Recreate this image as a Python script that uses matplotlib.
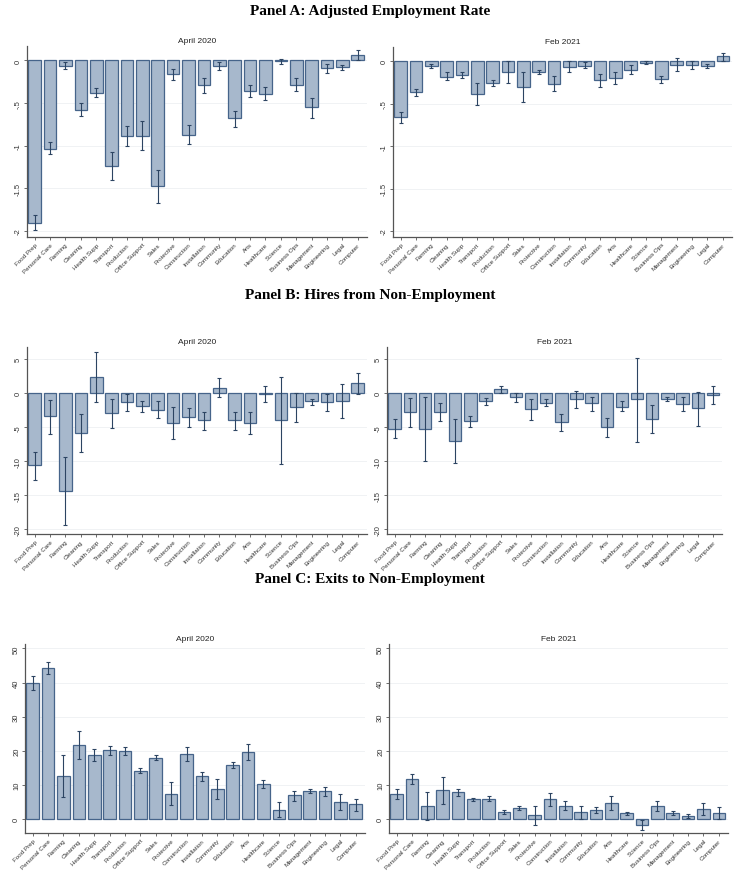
import matplotlib.pyplot as plt
import numpy as np

occupations = ["Food Prep", "Personal Care", "Farming", "Cleaning", "Health Supp",
               "Transport", "Production", "Office Support", "Sales", "Protective",
               "Construction", "Installation", "Community", "Education", "Arts",
               "Healthcare", "Science", "Business Ops", "Management", "Engineering",
               "Legal", "Computer"]

# Panel A: adjusted employment rate
emp_apr = [-1.90, -1.035, -0.06, -0.575, -0.38, -1.24, -0.89, -0.88, -1.47, -0.16, -0.87,
           -0.29, -0.07, -0.68, -0.36, -0.39, -0.01, -0.29, -0.55, -0.09, -0.08, 0.065]
emp_apr_lo = [-1.99, -1.10, -0.10, -0.65, -0.43, -1.40, -1.00, -1.05, -1.67, -0.23, -0.98,
              -0.38, -0.11, -0.78, -0.43, -0.46, -0.04, -0.36, -0.67, -0.15, -0.11, 0.01]
emp_apr_hi = [-1.81, -0.96, -0.02, -0.50, -0.32, -1.07, -0.77, -0.71, -1.28, -0.10, -0.76,
              -0.21, -0.02, -0.59, -0.29, -0.31, 0.02, -0.21, -0.44, -0.04, -0.05, 0.12]
emp_feb = [-0.66, -0.36, -0.05, -0.18, -0.16, -0.38, -0.25, -0.13, -0.30, -0.125, -0.265,
           -0.07, -0.05, -0.22, -0.20, -0.10, -0.015, -0.21, -0.04, -0.045, -0.055, 0.06]
emp_feb_lo = [-0.73, -0.41, -0.08, -0.22, -0.20, -0.51, -0.29, -0.26, -0.48, -0.15, -0.35,
              -0.13, -0.08, -0.30, -0.27, -0.15, -0.03, -0.26, -0.11, -0.085, -0.08, 0.01]
emp_feb_hi = [-0.60, -0.32, -0.03, -0.13, -0.125, -0.25, -0.22, 0.0, -0.12, -0.105, -0.175,
              0.0, -0.01, -0.145, -0.13, -0.04, 0.0, -0.175, 0.035, 0.0, -0.03, 0.10]

# Panel B: hires from non-employment
hire_apr = [-10.6, -3.4, -14.4, -5.9, 2.35, -2.95, -1.3, -1.9, -2.4, -4.4, -3.5,
            -4.0, 0.75, -4.0, -4.4, -0.15, -3.9, -2.05, -1.2, -1.3, -1.15, 1.45]
hire_apr_lo = [-12.7, -6.0, -19.4, -8.7, -1.3, -5.05, -2.65, -2.8, -3.7, -6.7, -5.0,
               -5.35, -0.6, -5.4, -6.0, -1.3, -10.4, -4.2, -1.7, -2.65, -3.7, -0.15]
hire_apr_hi = [-8.7, -1.0, -9.4, -3.1, 6.1, -0.8, -0.1, -1.1, -1.1, -2.05, -2.2,
               -2.7, 2.2, -2.8, -2.8, 1.0, 2.45, 0.05, -0.85, -0.1, 1.3, 2.95]
hire_feb = [-5.3, -2.8, -5.3, -2.7, -7.0, -4.1, -1.2, 0.65, -0.55, -2.35, -1.4,
            -4.25, -0.9, -1.5, -5.0, -1.95, -0.9, -3.8, -0.9, -1.6, -2.2, -0.3]
hire_feb_lo = [-6.6, -5.0, -10.0, -4.1, -10.2, -5.0, -1.75, 0.1, -1.3, -3.95, -1.9,
               -5.5, -2.1, -2.65, -6.4, -2.65, -7.1, -5.85, -1.2, -2.65, -4.85, -1.65]
hire_feb_hi = [-3.8, -0.7, -0.6, -1.4, -3.8, -3.3, -0.7, 1.1, 0.05, -0.85, -0.9,
               -3.0, 0.4, -0.55, -3.7, -1.2, 5.2, -1.8, -0.5, -0.6, 0.25, 1.0]

# Panel C: exits to non-employment
exit_apr = [39.9, 44.2, 12.7, 21.6, 18.7, 20.1, 20.0, 14.1, 18.0, 7.4, 19.0,
            12.5, 8.8, 15.8, 19.7, 10.2, 2.7, 6.9, 8.2, 8.1, 5.1, 4.3]
exit_apr_lo = [37.9, 42.4, 6.4, 17.5, 16.9, 18.8, 18.9, 13.4, 17.4, 4.0, 17.0,
               11.1, 6.0, 14.9, 17.4, 9.0, 0.5, 5.4, 7.5, 6.8, 2.6, 2.4]
exit_apr_hi = [41.8, 46.0, 18.8, 25.7, 20.5, 21.4, 21.0, 15.0, 18.8, 10.9, 21.0,
               13.9, 11.6, 16.6, 22.0, 11.3, 5.1, 8.3, 8.9, 9.4, 7.3, 6.0]
exit_feb = [7.3, 11.7, 3.8, 8.4, 7.8, 5.75, 6.0, 2.1, 3.2, 1.1, 5.75,
            3.9, 1.95, 2.7, 4.6, 1.75, -1.75, 3.7, 1.75, 0.8, 2.9, 1.75]
exit_feb_lo = [5.9, 10.3, -0.2, 4.5, 6.6, 5.2, 5.3, 1.6, 2.6, -1.75, 3.9,
               2.5, 0.0, 1.85, 2.5, 1.2, -3.1, 2.25, 1.2, 0.2, 1.2, 0.1]
exit_feb_hi = [8.9, 13.1, 7.8, 12.2, 8.9, 6.3, 6.8, 2.7, 3.7, 3.9, 7.5,
               5.2, 3.7, 3.6, 6.6, 2.2, -0.2, 5.2, 2.3, 1.35, 4.7, 3.4]

fill = "#a7b8cc"
edge = "#46648a"
ci_color = "#2c4462"
grid = "#eef0f2"

plt.rcParams["font.family"] = ["Liberation Sans", "DejaVu Sans"]

fig = plt.figure(figsize=(7.4, 8.79), dpi=100)


def panel(rect, title, vals, lo, hi, ylim, yticks, ylabels):
    ax = fig.add_axes(rect)
    x = np.arange(len(occupations))
    ax.bar(x, vals, width=0.82, color=fill, edgecolor=edge, linewidth=0.9, zorder=2)
    lo = np.array(lo)
    hi = np.array(hi)
    ax.errorbar(x, (lo + hi) / 2, yerr=(hi - lo) / 2, fmt="none", ecolor=ci_color,
                elinewidth=0.8, capsize=1.6, capthick=0.8, zorder=3)
    ax.set_xlim(-0.5, len(occupations) - 0.4)
    ax.set_ylim(*ylim)
    ax.set_yticks(yticks)
    ax.set_yticklabels(ylabels, rotation=90, va="center", fontsize=5.5, color="#333333")
    ax.set_xticks(x)
    ax.set_xticklabels(occupations, rotation=45, ha="right", rotation_mode="anchor",
                       fontsize=4.5, color="#333333")
    for yt in yticks:
        ax.axhline(yt, color=grid, linewidth=0.6, zorder=0)
    for s in ["top", "right"]:
        ax.spines[s].set_visible(False)
    for s in ["left", "bottom"]:
        ax.spines[s].set_color("#555555")
        ax.spines[s].set_linewidth(0.9)
    ax.tick_params(axis="both", length=2.5, width=0.6, color="#555555", pad=1.0)
    ax.set_title(title, fontsize=6, color="#222222", pad=3)
    return ax


W, H = 740, 879


def rect(x0, y0, x1, y1):
    return [x0 / W, 1 - y1 / H, (x1 - x0) / W, (y1 - y0) / H]


serif = dict(family="Liberation Serif", fontweight="bold", fontsize=11)

fig.text(0.5, 1 - 12 / H, "Panel A: Adjusted Employment Rate", ha="center", va="center", **serif)
a_ticks = [-2, -1.5, -1, -0.5, 0]
a_labels = ["-2", "-1.5", "-1", "-.5", "0"]
panel(rect(27, 47, 367, 238), "April 2020", emp_apr, emp_apr_lo, emp_apr_hi,
      (-2.07, 0.17), a_ticks, a_labels)
panel(rect(393, 48, 732, 238), "Feb 2021", emp_feb, emp_feb_lo, emp_feb_hi,
      (-2.07, 0.17), a_ticks, a_labels)

fig.text(0.5, 1 - 296 / H, "Panel B: Hires from Non-Employment", ha="center", va="center", **serif)
b_ticks = [-20, -15, -10, -5, 0, 5]
b_labels = [str(t) for t in b_ticks]
panel(rect(27, 348, 367, 535), "April 2020", hire_apr, hire_apr_lo, hire_apr_hi,
      (-20.7, 6.8), b_ticks, b_labels)
panel(rect(387, 348, 722, 535), "Feb 2021", hire_feb, hire_feb_lo, hire_feb_hi,
      (-20.7, 6.8), b_ticks, b_labels)

fig.text(0.5, 1 - 579 / H, "Panel C: Exits to Non-Employment", ha="center", va="center", **serif)
c_ticks = [0, 10, 20, 30, 40, 50]
c_labels = [str(t) for t in c_ticks]
panel(rect(25, 645, 365, 834), "April 2020", exit_apr, exit_apr_lo, exit_apr_hi,
      (-4.1, 51.3), c_ticks, c_labels)
panel(rect(389, 645, 728, 834), "Feb 2021", exit_feb, exit_feb_lo, exit_feb_hi,
      (-4.1, 51.3), c_ticks, c_labels)

fig.savefig("out.png", dpi=100)
